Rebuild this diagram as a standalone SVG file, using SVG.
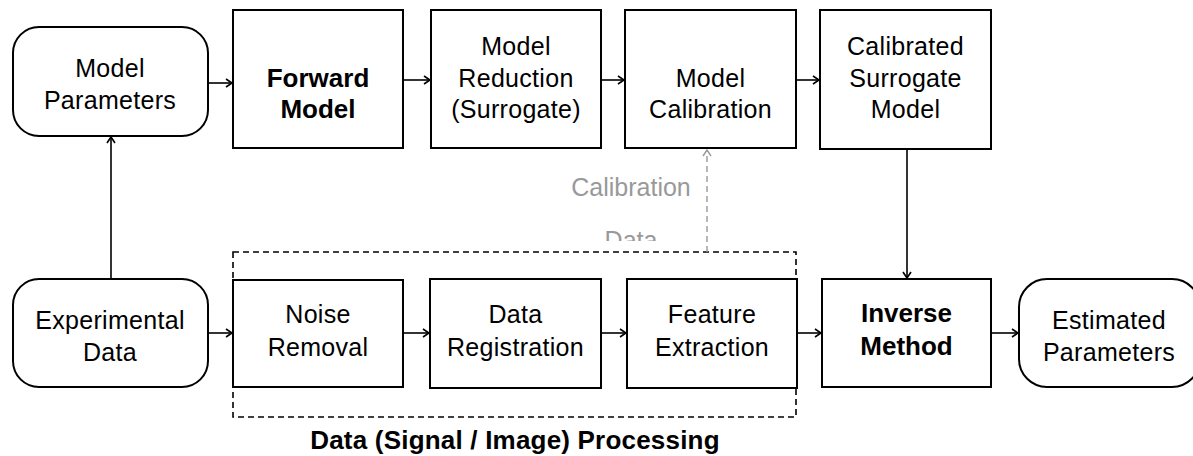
<svg xmlns="http://www.w3.org/2000/svg" width="1193" height="456" viewBox="0 0 1193 456">
<style>
.box{fill:#fff;stroke:#000;stroke-width:2}
.t{font-family:"Liberation Sans",Arial,sans-serif;font-size:25px;fill:#000;text-anchor:middle;letter-spacing:0.3px}
.b{font-family:"Liberation Sans",Arial,sans-serif;font-size:26px;font-weight:bold;fill:#000;text-anchor:middle}
.g{font-family:"Liberation Sans",Arial,sans-serif;font-size:25px;fill:#999;text-anchor:middle}
.c{fill:none;stroke:#000;stroke-width:1.6}
</style>
<defs>
<marker id="ah" markerUnits="userSpaceOnUse" markerWidth="10" markerHeight="10" viewBox="0 0 10 10" refX="8" refY="5" orient="auto">
<path d="M2,1 L8,5 L2,9" fill="none" stroke="#000" stroke-width="1.6"/>
</marker>
<marker id="ahg" markerUnits="userSpaceOnUse" markerWidth="10" markerHeight="10" viewBox="0 0 10 10" refX="8" refY="5" orient="auto">
<path d="M2,1 L8,5 L2,9" fill="none" stroke="#999" stroke-width="1.4"/>
</marker>
<clipPath id="cut"><rect x="0" y="0" width="1193" height="241"/></clipPath>
</defs>
<rect width="1193" height="456" fill="#fff"/>

<g id="processing-group">
<rect x="233" y="252" width="563" height="165" fill="none" stroke="#000" stroke-width="1.6" stroke-dasharray="6,4"/>
<text class="b" x="515" y="449" style="letter-spacing:0.2px">Data (Signal / Image) Processing</text>
</g>

<g id="connectors">
<line class="c" x1="208" y1="83" x2="232" y2="83" marker-end="url(#ah)"/>
<line class="c" x1="403" y1="80" x2="430" y2="80" marker-end="url(#ah)"/>
<line class="c" x1="601" y1="80" x2="624" y2="80" marker-end="url(#ah)"/>
<line class="c" x1="796" y1="80" x2="819" y2="80" marker-end="url(#ah)"/>
<line class="c" x1="111" y1="279" x2="111" y2="137" marker-end="url(#ah)"/>
<line class="c" x1="907" y1="149" x2="907" y2="278" marker-end="url(#ah)"/>
<line class="c" x1="208" y1="333" x2="232" y2="333" marker-end="url(#ah)"/>
<line class="c" x1="403" y1="333" x2="429" y2="333" marker-end="url(#ah)"/>
<line class="c" x1="601" y1="333" x2="626" y2="333" marker-end="url(#ah)"/>
<line class="c" x1="797" y1="333" x2="821" y2="333" marker-end="url(#ah)"/>
<line class="c" x1="991" y1="333" x2="1018" y2="333" marker-end="url(#ah)"/>
<line x1="707" y1="252" x2="707" y2="150" fill="none" stroke="#999" stroke-width="1.4" stroke-dasharray="6,4" marker-end="url(#ahg)"/>
<text class="g" x="631" y="196">Calibration</text>
<text class="g" x="631" y="249" clip-path="url(#cut)">Data</text>
</g>

<g id="model-parameters">
<rect class="box" x="13" y="27" width="195" height="109" rx="26" ry="26"/>
<text class="t" x="110" y="77">Model</text>
<text class="t" x="110" y="109">Parameters</text>
</g>
<g id="forward-model">
<rect class="box" x="233" y="10" width="170" height="138"/>
<text class="b" x="318" y="87">Forward</text>
<text class="b" x="318" y="118">Model</text>
</g>
<g id="model-reduction">
<rect class="box" x="431" y="10" width="170" height="138"/>
<text class="t" x="516" y="55">Model</text>
<text class="t" x="516" y="87">Reduction</text>
<text class="t" x="516" y="118">(Surrogate)</text>
</g>
<g id="model-calibration">
<rect class="box" x="625" y="10" width="171" height="138"/>
<text class="t" x="710.5" y="87">Model</text>
<text class="t" x="710.5" y="118">Calibration</text>
</g>
<g id="calibrated-surrogate">
<rect class="box" x="820" y="10" width="171" height="139"/>
<text class="t" x="905.5" y="55">Calibrated</text>
<text class="t" x="905.5" y="87">Surrogate</text>
<text class="t" x="905.5" y="118">Model</text>
</g>

<g id="experimental-data">
<rect class="box" x="13" y="279" width="195" height="108" rx="26" ry="26"/>
<text class="t" x="110" y="329">Experimental</text>
<text class="t" x="110" y="361">Data</text>
</g>
<g id="noise-removal">
<rect class="box" x="233" y="280" width="170" height="107"/>
<text class="t" x="318" y="323">Noise</text>
<text class="t" x="318" y="356">Removal</text>
</g>
<g id="data-registration">
<rect class="box" x="430" y="279" width="171" height="109"/>
<text class="t" x="515.5" y="323">Data</text>
<text class="t" x="515.5" y="356">Registration</text>
</g>
<g id="feature-extraction">
<rect class="box" x="627" y="279" width="170" height="109"/>
<text class="t" x="712" y="323">Feature</text>
<text class="t" x="712" y="356">Extraction</text>
</g>
<g id="inverse-method">
<rect class="box" x="822" y="279" width="169" height="108"/>
<text class="b" x="906.5" y="322">Inverse</text>
<text class="b" x="906.5" y="355">Method</text>
</g>
<g id="estimated-parameters">
<rect class="box" x="1019" y="279" width="181" height="108" rx="28" ry="28"/>
<text class="t" x="1109" y="329">Estimated</text>
<text class="t" x="1109" y="361">Parameters</text>
</g>
</svg>
